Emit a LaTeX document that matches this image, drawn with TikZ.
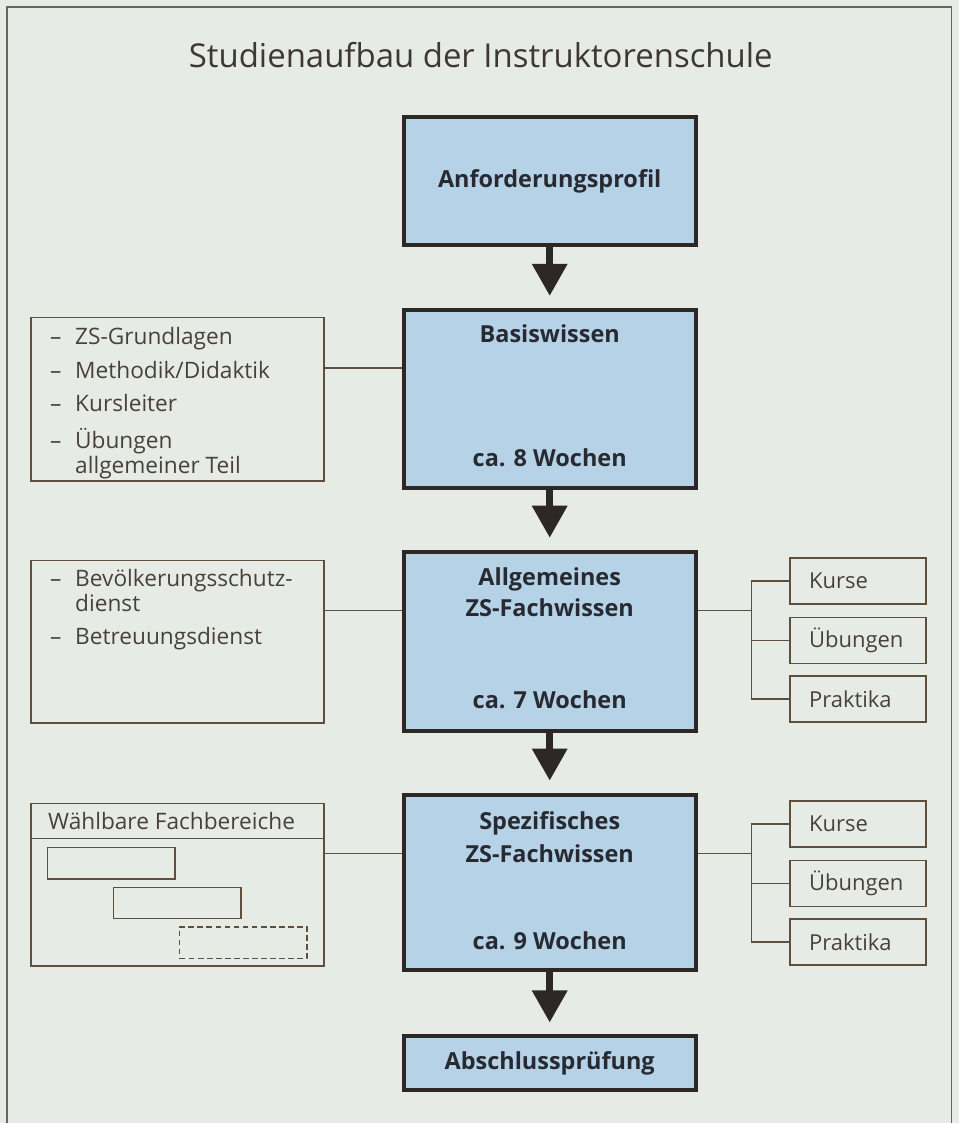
\documentclass[tikz,border=0pt]{standalone}
\usepackage{fontspec}
\setmainfont{Open Sans}
\usetikzlibrary{arrows.meta}

\definecolor{paper}{RGB}{231,235,230}
\definecolor{boxblue}{RGB}{182,210,230}
\definecolor{boxline}{RGB}{45,40,38}
\definecolor{linebrown}{RGB}{95,80,62}
\definecolor{textgrey}{RGB}{72,65,58}
\definecolor{textdark}{RGB}{40,42,50}
\definecolor{titlecol}{RGB}{62,55,50}
\definecolor{framecol}{RGB}{110,100,85}

\begin{document}
\begin{tikzpicture}[x=0.75pt,y=-0.75pt,
  mainbox/.style={draw=boxline,line width=3pt,fill=boxblue,minimum width=219pt,inner sep=0pt,
    font=\bfseries\fontsize{17.6}{21}\selectfont,text=textdark},
  boldtext/.style={font=\bfseries\fontsize{17.6}{21}\selectfont,text=textdark,inner sep=0pt,anchor=base},
  sidebox/.style={draw=linebrown,line width=1.1pt,minimum width=220pt,inner sep=0pt},
  listtext/.style={font=\fontsize{17}{18.75}\selectfont,text=textgrey,inner sep=0pt,anchor=base west},
  subbox/.style={draw=linebrown,line width=1.1pt,minimum width=102pt,minimum height=34.5pt,
    text width=73.5pt,inner xsep=14.25pt,inner ysep=0pt,align=left,
    font=\fontsize{16.5}{19}\selectfont,text=textgrey},
  fachbox/.style={draw=linebrown,line width=1.1pt,minimum width=95.6pt,minimum height=23.6pt,inner sep=0pt},
  thinline/.style={draw=linebrown,line width=1.1pt},
  steparrow/.style={draw=boxline,line width=5pt,-{Triangle[width=25.5pt,length=24pt]},shorten >=9pt}
]
\fill[paper] (0,0) rectangle (960,1124);
\draw[framecol,line width=0.9pt] (7,1124) -- (7,7) -- (952,7) -- (952,1124);
\node[font=\fontsize{24.7}{30}\selectfont,text=titlecol,anchor=base] (title) at (481,68)
  {Studienaufbau der Instruktorenschule};

% main column
\node[mainbox,minimum height=96pt] (anf) at (550,181) {Anforderungsprofil};
\node[mainbox,minimum height=133.5pt] (basis) at (550,399) {};
\node[boldtext] (basisT) at (550,343) {Basiswissen};
\node[boldtext] (basisW) at (550,467) {ca. 8 Wochen};
\node[mainbox,minimum height=134.25pt] (allg) at (550,641.5) {};
\node[boldtext] (allgT) at (550,586) {Allgemeines};
\node[boldtext] (allgT2) at (550,617) {ZS-Fachwissen};
\node[boldtext] (allgW) at (550,709) {ca. 7 Wochen};
\node[mainbox,minimum height=132pt] (spez) at (550,883) {};
\node[boldtext] (spezT) at (550,830) {Spezifisches};
\node[boldtext] (spezT2) at (550,863) {ZS-Fachwissen};
\node[boldtext] (spezW) at (550,950) {ca. 9 Wochen};
\node[mainbox,minimum height=40.5pt] (absch) at (550,1064) {Abschlussprüfung};

\draw[steparrow] (anf.south) -- (basis.north);
\draw[steparrow] (basis.south) -- (allg.north);
\draw[steparrow] (allg.south) -- (spez.north);
\draw[steparrow] (spez.south) -- (absch.north);

% left boxes
\node[sidebox,minimum height=122.6pt] (grund) at (177.5,399.5) {};
\node[listtext] (grundL) at (50,345) {\begin{tabular}[t]{@{}p{18.75pt}@{}l@{}}
  –&ZS-Grundlagen\\[6.4pt]
  –&Methodik/Didaktik\\[6.4pt]
  –&Kursleiter\\[6.6pt]
  –&Übungen\\
   &allgemeiner Teil
  \end{tabular}};
\node[sidebox,minimum height=122pt] (dienst) at (177.5,642) {};
\node[listtext] (dienstL) at (50,587) {\begin{tabular}[t]{@{}p{18.75pt}@{}l@{}}
  –&Bevölkerungsschutz-\\
   &dienst\\[6pt]
  –&Betreuungsdienst
  \end{tabular}};
\node[sidebox,minimum height=122pt] (fach) at (177.5,885) {};
\node[listtext] (fachT) at (48,830) {Wählbare Fachbereiche};
\coordinate (hdr) at (0,839);
\draw[thinline] (fach.west |- hdr) -- (fach.east |- hdr);
\node[fachbox] (fachA) at (111.5,863.5) {};
\node[fachbox] (fachB) at (177.5,903.5) {};
\node[fachbox,dash pattern=on 4.3pt off 2.5pt] (fachC) at (243.5,943) {};

% right boxes
\node[subbox] (kursA) at (858.5,581.5) {Kurse};
\node[subbox] (uebA) at (858.5,641) {Übungen};
\node[subbox] (praktA) at (858.5,699.5) {Praktika};
\node[subbox] (kursB) at (858.5,824.5) {Kurse};
\node[subbox] (uebB) at (858.5,884) {Übungen};
\node[subbox] (praktB) at (858.5,942.5) {Praktika};

% connectors
\coordinate (lA) at (0,368);
\coordinate (jA) at (752,611);
\coordinate (jB) at (752,854);
\draw[thinline] (grund.east |- lA) -- (basis.west |- lA);
\draw[thinline] (dienst.east |- jA) -- (allg.west |- jA);
\draw[thinline] (fach.east |- jB) -- (spez.west |- jB);
\draw[thinline] (allg.east |- jA) -- (jA)
      (kursA.west) -| (jA)
      (praktA.west) -| (jA)
      (uebA.west) -- (uebA.west -| jA);
\draw[thinline] (spez.east |- jB) -- (jB)
      (kursB.west) -| (jB)
      (praktB.west) -| (jB)
      (uebB.west) -- (uebB.west -| jB);
\end{tikzpicture}
\end{document}
